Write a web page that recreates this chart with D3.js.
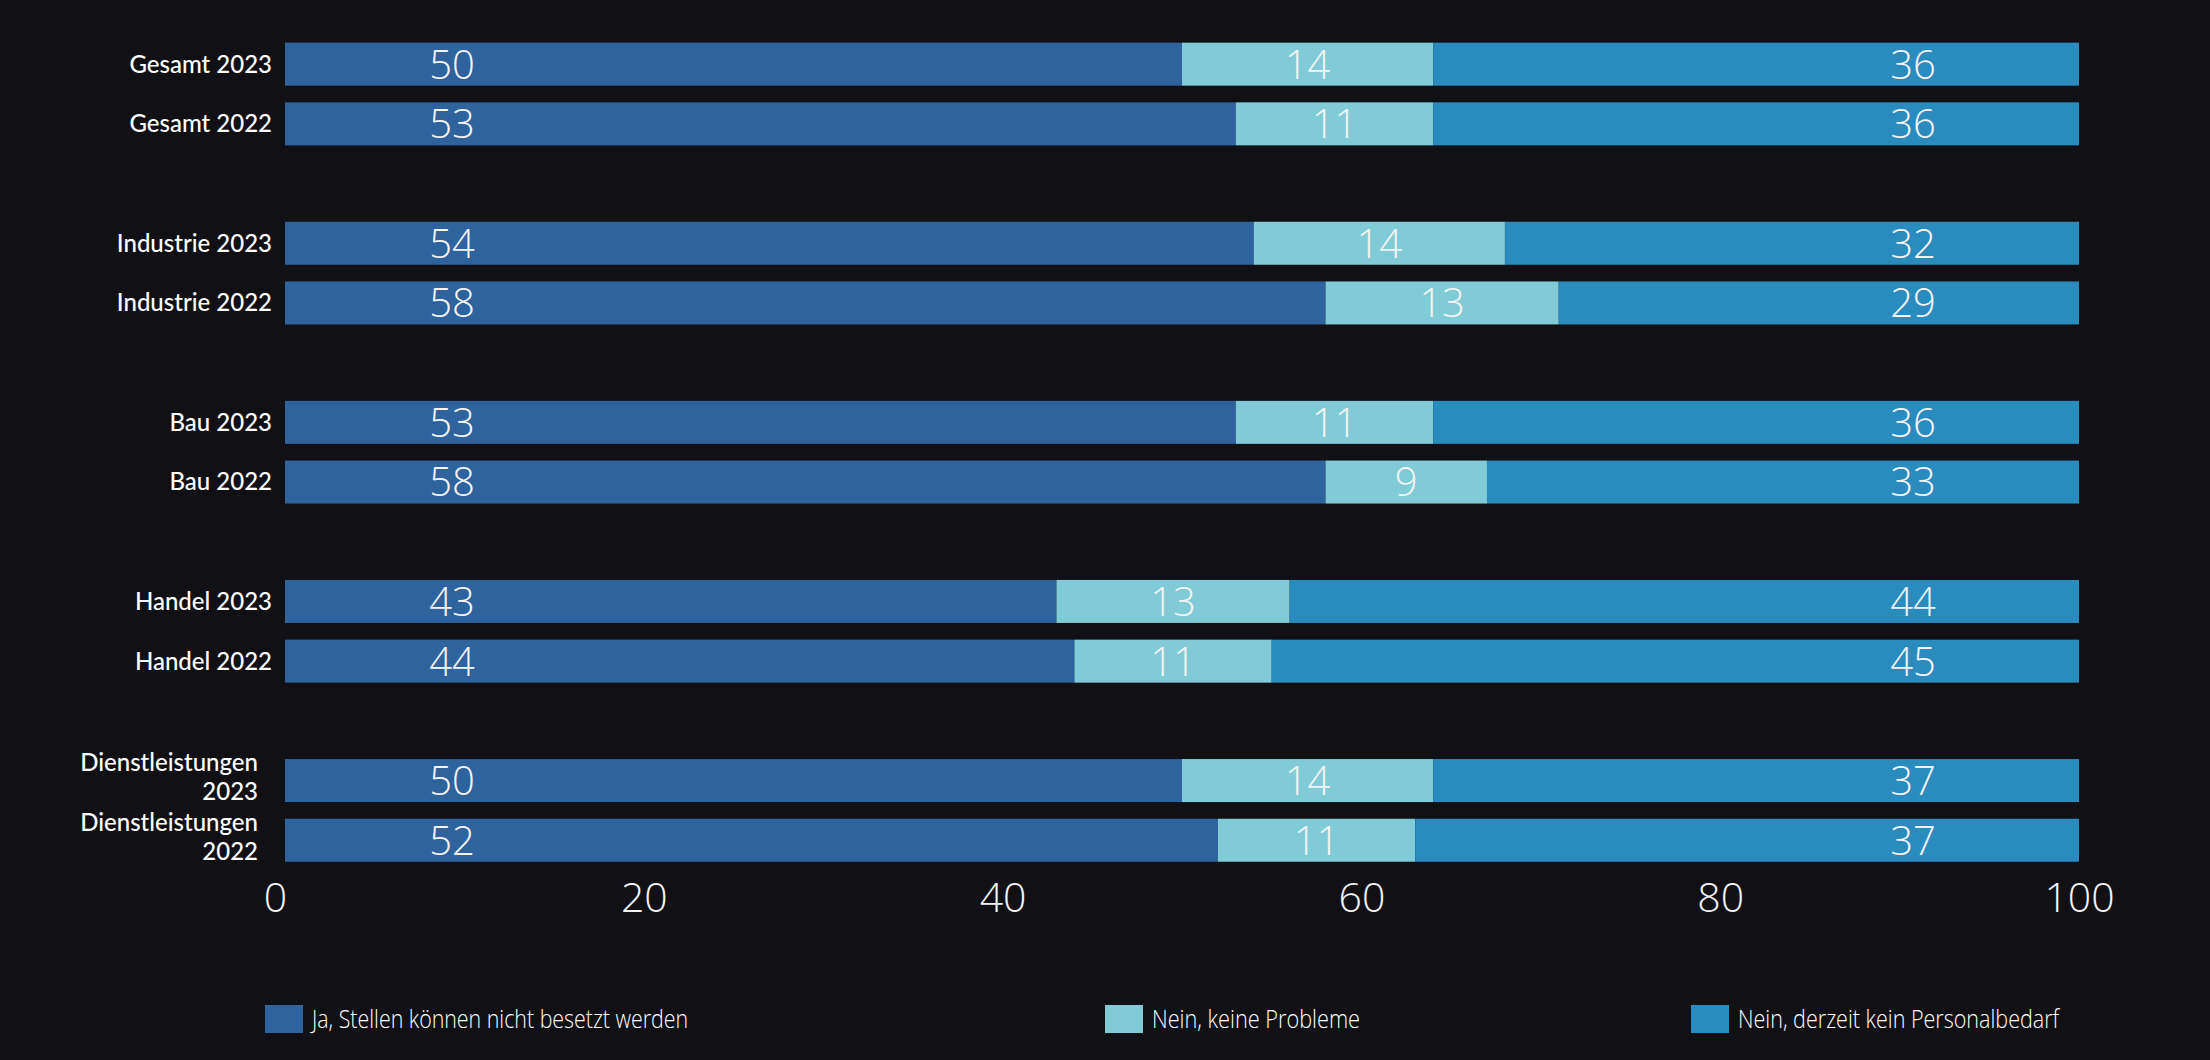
<!DOCTYPE html>
<html>
<head>
<meta charset="utf-8">
<script src="https://cdn.jsdelivr.net/npm/d3@7"></script>
<style>
  html, body { margin: 0; padding: 0; background: #111115; }
  svg { display: block; }
</style>
</head>
<body>
<div id="chart"></div>
<script>
// ---------- data ----------
const categories = [
  "Gesamt 2023", "Gesamt 2022",
  "Industrie 2023", "Industrie 2022",
  "Bau 2023", "Bau 2022",
  "Handel 2023", "Handel 2022",
  "Dienstleistungen 2023", "Dienstleistungen 2022"
];
const seriesNames = [
  "Ja, Stellen können nicht besetzt werden",
  "Nein, keine Probleme",
  "Nein, derzeit kein Personalbedarf"
];
const jaValues          = [50, 53, 54, 58, 53, 58, 43, 44, 50, 52];
const neinKeineValues   = [14, 11, 14, 13, 11,  9, 13, 11, 14, 11];
const neinDerzeitValues = [36, 36, 32, 29, 36, 33, 44, 45, 37, 37];
const xTicks = [0, 20, 40, 60, 80, 100];

// ---------- setup ----------
const W = 2210, H = 1060;
const colors = ["#2f639e", "#80cbd7", "#2a8bbf"];
const keys = ["ja", "keine", "derzeit"];

const rows = categories.map((c, i) => ({
  cat: c, ja: jaValues[i], keine: neinKeineValues[i], derzeit: neinDerzeitValues[i]
}));

// band domain with spacer rows between groups of two
const domain = [];
categories.forEach((c, i) => {
  domain.push(c);
  if (i % 2 === 1 && i < categories.length - 1) domain.push("__gap" + i);
});

const svg = d3.select("#chart").append("svg")
  .attr("width", W).attr("height", H)
  .style("background", "#111115");

const x = d3.scaleLinear().domain([0, 100]).range([285, 2079]).clamp(true);
const y = d3.scaleBand().domain(domain).range([34.3, 870.1])
  .paddingInner(0.28).paddingOuter(0.14);

const stack = d3.stack().keys(keys);
const series = stack(rows);

// bars
const layers = svg.append("g").selectAll("g")
  .data(series).join("g")
  .attr("fill", (d, i) => colors[i]);

layers.selectAll("rect")
  .data(d => d)
  .join("rect")
  .attr("x", d => x(d[0]))
  .attr("y", d => y(d.data.cat))
  .attr("width", d => Math.max(0, x(d[1]) - x(d[0])))
  .attr("height", y.bandwidth());

// value labels
const valFont = "'Open Sans', 'Lato', sans-serif";
const lab = svg.append("g")
  .attr("font-family", valFont)
  .attr("font-weight", 300)
  .attr("font-size", 40)
  .attr("fill", "#f4f4f4")
  .attr("text-anchor", "middle");

series.forEach((s, si) => {
  lab.selectAll(null)
    .data(s)
    .join("text")
    .attr("x", d => {
      if (si === 0) return x(0) + 167;
      if (si === 2) return x(100) - 166;
      return (x(d[0]) + x(d[1])) / 2;
    })
    .attr("y", d => y(d.data.cat) + y.bandwidth() / 2)
    .attr("dy", "0.36em")
    .text(d => d.data[keys[si]]);
});

// category labels (y axis)
const yl = svg.append("g")
  .attr("font-family", "'Lato', 'Noto Sans', sans-serif")
  .attr("font-weight", 500)
  .attr("font-size", 24)
  .attr("fill", "#ffffff")
  .attr("text-anchor", "end");

categories.forEach(c => {
  const cy = y(c) + y.bandwidth() / 2;
  if (c.length > 16) {
    const idx = c.lastIndexOf(" ");
    const t = yl.append("text").attr("x", 258).attr("y", cy + 4);
    t.append("tspan").attr("x", 258).attr("dy", "-0.55em").text(c.slice(0, idx));
    t.append("tspan").attr("x", 258).attr("dy", "1.2em").text(c.slice(idx + 1));
  } else {
    yl.append("text").attr("x", 272).attr("y", cy).attr("dy", "0.35em").text(c);
  }
});

// x axis
const xAxis = svg.append("g")
  .attr("transform", "translate(0,897)")
  .call(d3.axisBottom(x).tickValues(xTicks).tickSize(0).tickFormat(d3.format("d")));
xAxis.select(".domain").remove();
xAxis.selectAll("text")
  .attr("y", 0)
  .attr("dy", "0.36em")
  .attr("dx", d => d === 0 ? -10 : 0)
  .attr("fill", "#f4f4f4")
  .attr("font-family", valFont)
  .attr("font-weight", 300)
  .attr("font-size", 41);

// legend
const legendX = [265, 1105, 1691];
const legendW = [376, 208, 321];
const lg = svg.append("g");
seriesNames.forEach((n, i) => {
  const g = lg.append("g").attr("transform", `translate(${legendX[i]},1005)`);
  g.append("rect").attr("width", 38).attr("height", 28).attr("fill", colors[i]);
  g.append("text")
    .attr("x", 47).attr("y", 14).attr("dy", "0.35em")
    .attr("font-family", "'Open Sans', 'Lato', sans-serif")
    .attr("font-weight", 300)
    .attr("font-size", 25)
    .attr("fill", "#ffffff")
    .attr("textLength", legendW[i])
    .attr("lengthAdjust", "spacingAndGlyphs")
    .text(n);
});
</script>
</body>
</html>
